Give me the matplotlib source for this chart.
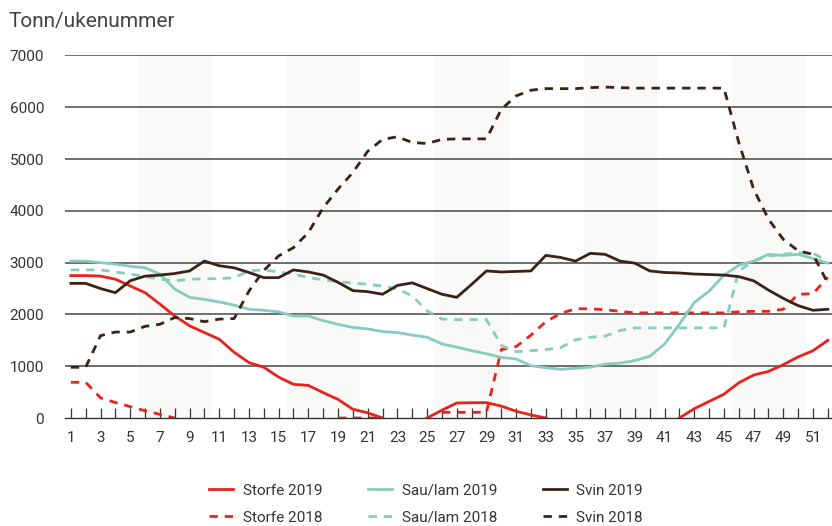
import numpy as np
import matplotlib.pyplot as plt

nan = np.nan
uker = np.arange(1, 53)

# --- Data (tonn per uke) ---
storfe_2019 = [2750, 2750, 2740, 2680, 2550, 2420, 2200, 1970, 1780, 1650,
               1520, 1270, 1070, 980, 790, 650, 630, 490, 360, 170,
               100, 0, nan, nan, 0, 150, 290, 295, 297, 230,
               130, 60, 0, nan, nan, nan, nan, nan, nan, nan,
               nan, 0, 180, 320, 460, 680, 830, 900, 1030, 1180,
               1300, 1500]
storfe_2018 = [690, 690, 390, 300, 220, 140, 70, 0, nan, nan,
               nan, nan, nan, nan, nan, nan, nan, nan, 0, 0,
               0, 0, nan, nan, nan, 110, 110, 110, 110, 1320,
               1380, 1600, 1860, 2020, 2110, 2110, 2090, 2060, 2030, 2030,
               2030, 2030, 2030, 2030, 2030, 2050, 2060, 2060, 2100, 2390,
               2400, 2720]
sau_2019 = [3030, 3030, 3000, 2970, 2930, 2900, 2780, 2490, 2330, 2290,
            2240, 2180, 2100, 2080, 2050, 1970, 1970, 1880, 1810, 1750,
            1720, 1670, 1650, 1600, 1560, 1430, 1370, 1300, 1240, 1170,
            1140, 1010, 970, 940, 960, 980, 1040, 1060, 1110, 1190,
            1430, 1810, 2230, 2450, 2760, 2950, 3030, 3160, 3140, 3160,
            3080, 2990]
sau_2018 = [2860, 2860, 2860, 2820, 2780, 2730, 2680, 2650, 2680, 2690,
            2690, 2710, 2840, 2860, 2820, 2780, 2710, 2670, 2630, 2610,
            2580, 2550, 2490, 2360, 2070, 1910, 1900, 1900, 1900, 1400,
            1280, 1300, 1320, 1360, 1510, 1560, 1580, 1690, 1740, 1740,
            1740, 1740, 1740, 1740, 1740, 2840, 3030, 3130, 3160, 3190,
            3180, 3030]
svin_2019 = [2600, 2600, 2500, 2420, 2650, 2740, 2760, 2790, 2840, 3030,
             2940, 2900, 2810, 2710, 2710, 2860, 2820, 2760, 2620, 2460,
             2440, 2390, 2560, 2610, 2500, 2390, 2330, 2580, 2840, 2820,
             2830, 2840, 3140, 3100, 3030, 3180, 3160, 3030, 2990, 2840,
             2810, 2800, 2780, 2770, 2760, 2730, 2650, 2470, 2310, 2170,
             2080, 2100]
svin_2018 = [980, 980, 1590, 1660, 1660, 1770, 1810, 1940, 1920, 1860,
             1910, 1920, 2450, 2850, 3130, 3290, 3580, 4060, 4420, 4740,
             5150, 5380, 5430, 5320, 5300, 5380, 5390, 5390, 5390, 5960,
             6220, 6330, 6360, 6360, 6360, 6380, 6390, 6380, 6370, 6370,
             6370, 6370, 6370, 6370, 6370, 5320, 4420, 3840, 3450, 3230,
             3160, 2600]

tittel = "Tonn/ukenummer"

# --- Farger ---
rod = "#e8221c"
turkis = "#86cdbe"
brun = "#3e2115"

plt.rcParams['font.family'] = ['Roboto', 'DejaVu Sans']

fig = plt.figure(figsize=(8.32, 5.26), dpi=100)
ax = fig.add_axes([0.078, 0.2053, 0.922, 0.6892])

# Skraverte bånd
for start in range(5, 50, 10):
    ax.axvspan(start + 0.55, start + 5.5, color="#f9f9f7", zorder=0, lw=0)

# Rutenett
for y in range(1000, 8000, 1000):
    ax.axhline(y, color="#555555", lw=1.2, zorder=1)

lw = 2.0
dash = (0, (3, 2.5))
ax.plot(uker, storfe_2019, color=rod, lw=lw, label="Storfe 2019", zorder=3)
ax.plot(uker, storfe_2018, color=rod, lw=lw, ls=dash, label="Storfe 2018", zorder=3)
ax.plot(uker, sau_2019, color=turkis, lw=lw, label="Sau/lam 2019", zorder=3)
ax.plot(uker, sau_2018, color=turkis, lw=lw, ls=dash, label="Sau/lam 2018", zorder=3)
ax.plot(uker, svin_2019, color=brun, lw=lw, label="Svin 2019", zorder=3)
ax.plot(uker, svin_2018, color=brun, lw=lw, ls=dash, label="Svin 2018", zorder=3)

ax.set_xlim(0.6, 52.28)
ax.set_ylim(0, 7000)

for s in ["top", "right", "left"]:
    ax.spines[s].set_visible(False)
ax.spines["bottom"].set_color("#333333")
ax.spines["bottom"].set_linewidth(1.0)
ax.spines["bottom"].set_zorder(4)

ax.set_xticks(uker, minor=True)
ax.set_xticks(uker[::2])
ax.tick_params(axis="x", which="both", direction="in", length=7, width=0.9,
               color="#333333", labelsize=11, labelcolor="#333333", pad=9)
ax.tick_params(axis="y", length=0, labelsize=11, labelcolor="#333333", pad=15)
ax.set_yticks(range(0, 8000, 1000))

fig.text(0.01, 0.96, tittel, fontsize=15, color="#444444", va="center")

leg = fig.legend(loc="center", bbox_to_anchor=(0.512, 0.0418), ncol=3,
                 frameon=False, fontsize=11, handlelength=1.6,
                 columnspacing=3.0, labelspacing=0.85, handletextpad=0.6)
for t in leg.get_texts():
    t.set_color("#333333")

fig.savefig("out.png", dpi=100)
